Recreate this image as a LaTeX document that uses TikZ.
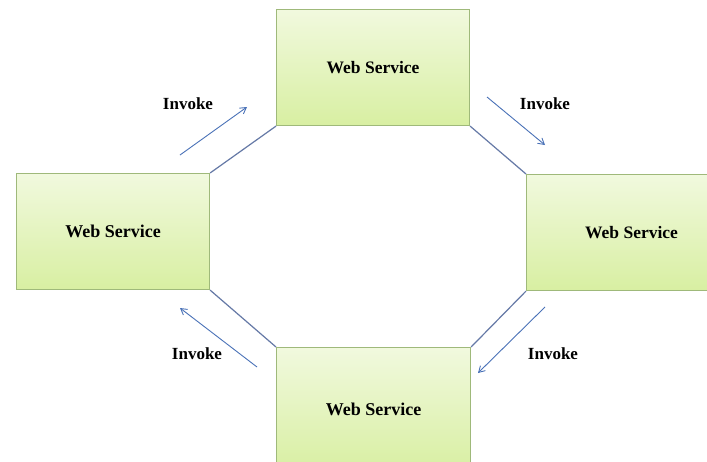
\documentclass[tikz,border=0pt]{standalone}
\usepackage{fontspec}
\setmainfont{Liberation Serif}
\usetikzlibrary{arrows.meta}
\definecolor{boxtop}{HTML}{F1F9DE}
\definecolor{boxbot}{HTML}{D8EFA2}
\definecolor{boxline}{HTML}{9FB97A}
\definecolor{linkcol}{HTML}{6579A6}
\definecolor{arrcol}{HTML}{4A72B8}
\tikzset{
  wsbox/.style={draw=boxline, line width=1.1pt, top color=boxtop, bottom color=boxbot,
    minimum width=193pt, minimum height=116pt, inner sep=0pt,
    font=\fontsize{17.5}{20}\selectfont\bfseries},
  link/.style={draw=linkcol, line width=1.2pt},
  invarrow/.style={draw=arrcol, line width=0.9pt, -{Straight Barb[length=6pt,width=7pt]}},
  invlabel/.style={font=\fontsize{17}{19}\selectfont\bfseries, inner sep=0pt}
}
\begin{document}
\begin{tikzpicture}[x=1pt,y=-1pt]
\useasboundingbox (0,0) rectangle (707,461);
\clip (0,0) rectangle (707,461);
\fill[white] (0,0) rectangle (707,461);
% boxes
\node[wsbox, anchor=north west] (T) at (276,9) {Web Service};
\node[wsbox, anchor=north west, font=\fontsize{18}{20}\selectfont\bfseries] (L) at (16,173) {Web Service};
\node[wsbox, anchor=north west, minimum width=210pt] (R) at (526,174) {Web Service};
\node[wsbox, anchor=north west, minimum width=194pt, minimum height=124pt, font=\fontsize{18}{20}\selectfont\bfseries] (B) at (276,347) {Web Service};
% octagon links
\draw[link] (L.north east) -- (T.south west);
\draw[link] (T.south east) -- (R.north west);
\draw[link] (R.south west) -- (B.north east);
\draw[link] (B.north west) -- (L.south east);
% arrow endpoints
\coordinate (a1s) at (180,155); \coordinate (a1e) at (247,107);
\coordinate (a2s) at (487,97);  \coordinate (a2e) at (545,145);
\coordinate (a3s) at (545,307); \coordinate (a3e) at (478,373);
\coordinate (a4s) at (257,367); \coordinate (a4e) at (180,308);
\draw[invarrow] (a1s) -- (a1e);
\draw[invarrow] (a2s) -- (a2e);
\draw[invarrow] (a3s) -- (a3e);
\draw[invarrow] (a4s) -- (a4e);
% labels
\node[invlabel] (i1) at (188,104) {Invoke};
\node[invlabel] (i2) at (545,104) {Invoke};
\node[invlabel] (i3) at (553,354) {Invoke};
\node[invlabel] (i4) at (197,354) {Invoke};
\end{tikzpicture}
\end{document}
